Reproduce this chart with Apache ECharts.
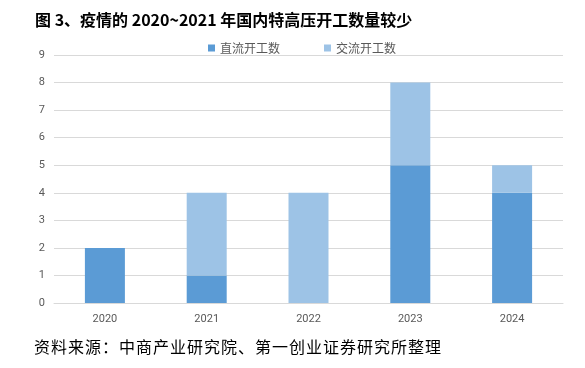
<!DOCTYPE html>
<html>
<head>
<meta charset="utf-8">
<script src="https://cdn.jsdelivr.net/npm/echarts@6/dist/echarts.min.js"></script>
<style>
  html, body { margin: 0; padding: 0; background: #fff; }
  #chart { width: 585px; height: 368px; }
</style>
</head>
<body>
<div id="chart"></div>
<script>
// 数据
const years = ['2020', '2021', '2022', '2023', '2024']
const dcStarts = [2, 1, 0, 5, 4]
const acStarts = [0, 3, 4, 3, 1]

const sourceText = '资料来源：中商产业研究院、第一创业证券研究所整理'

const chart = echarts.init(document.getElementById('chart'))

const axisLabelStyle = {
  color: '#595959',
  fontSize: 11,
  fontFamily: 'Roboto, "Noto Sans", sans-serif'
}

const option = {
  animation: false,
  title: [
    {
      text: '图 3、疫情的 2020~2021 年国内特高压开工数量较少',
      left: 30,
      top: 7,
      textStyle: {
        fontSize: 16,
        fontWeight: 'bold',
        color: '#000',
        fontFamily: '"Noto Sans CJK SC", sans-serif'
      }
    },
    {
      // 字间略加空隙
      text: sourceText.split('').join('\u200a'),
      left: 29,
      top: 334,
      textStyle: {
        fontSize: 16,
        fontWeight: 'normal',
        color: '#000',
        fontFamily: '"Noto Sans CJK SC", sans-serif'
      }
    }
  ],
  legend: {
    left: 203,
    top: 37,
    itemWidth: 7,
    itemHeight: 7,
    itemGap: 44,
    icon: 'rect',
    textStyle: {
      color: '#595959',
      fontSize: 12,
      fontFamily: '"Noto Sans CJK SC", sans-serif'
    }
  },
  grid: {
    left: 54,
    right: 22,
    top: 55,
    bottom: 65
  },
  xAxis: {
    type: 'category',
    data: years,
    axisTick: { show: false },
    axisLine: { lineStyle: { color: '#D9D9D9', width: 1 } },
    axisLabel: { ...axisLabelStyle, margin: 11 }
  },
  yAxis: {
    type: 'value',
    min: 0,
    max: 9,
    interval: 1,
    axisLine: { show: false },
    axisTick: { show: false },
    splitLine: { lineStyle: { color: '#D9D9D9', width: 1 } },
    axisLabel: { ...axisLabelStyle, margin: 9 }
  },
  series: [
    {
      name: '直流开工数',
      type: 'bar',
      stack: 'total',
      barWidth: 40,
      data: dcStarts,
      itemStyle: { color: '#5B9BD5' }
    },
    {
      name: '交流开工数',
      type: 'bar',
      stack: 'total',
      barWidth: 40,
      data: acStarts,
      itemStyle: { color: '#9DC3E6' }
    }
  ]
}

chart.setOption(option)
</script>
</body>
</html>
